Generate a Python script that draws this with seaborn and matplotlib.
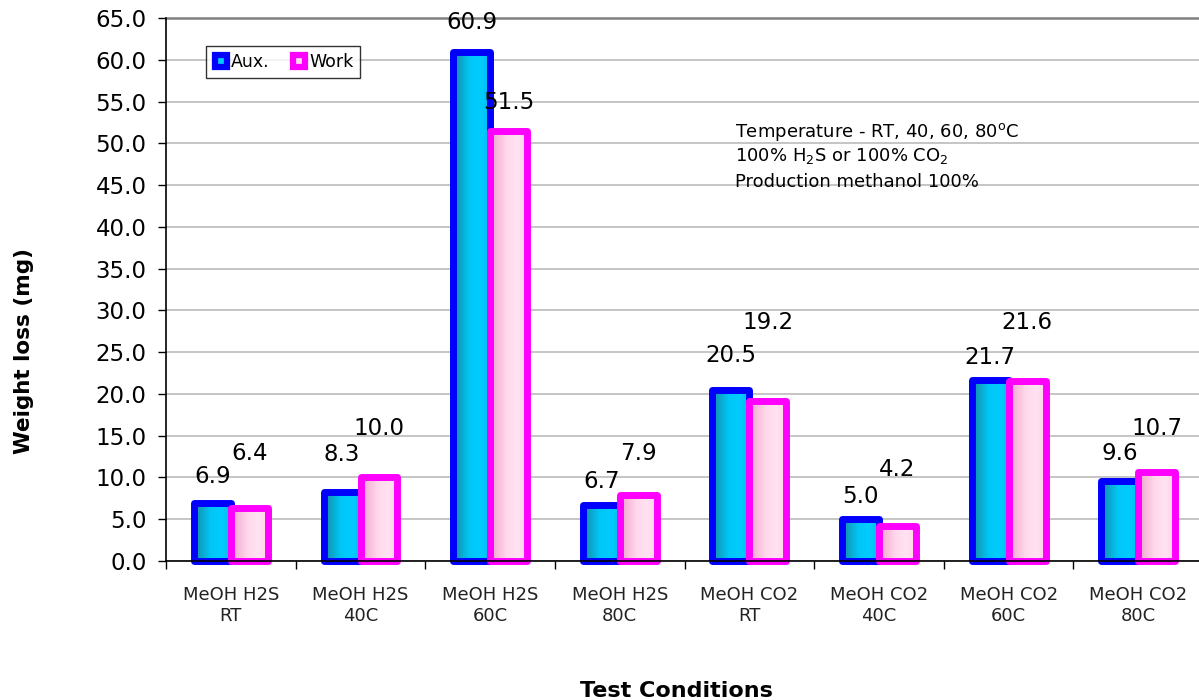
import numpy as np
import pandas as pd
import matplotlib
matplotlib.use("Agg")
import matplotlib.pyplot as plt
import seaborn as sns
from matplotlib.colors import LinearSegmentedColormap
from matplotlib.lines import Line2D
from matplotlib.patches import Rectangle
from matplotlib.ticker import FormatStrFormatter, FixedLocator

# ---- data -------------------------------------------------------------
conditions = ["MeOH H2S\nRT", "MeOH H2S\n40C", "MeOH H2S\n60C", "MeOH H2S\n80C",
              "MeOH CO2\nRT", "MeOH CO2\n40C", "MeOH CO2\n60C", "MeOH CO2\n80C"]
series = ["Aux.", "Work"]
aux_loss = [6.9, 8.3, 60.9, 6.7, 20.5, 5.0, 21.7, 9.6]
work_loss = [6.4, 10.0, 51.5, 7.9, 19.2, 4.2, 21.6, 10.7]
y_ticks = np.arange(0, 65.1, 5.0)

# vertical lift of each value label above its bar (pixels)
aux_label_lift = [27, 37, 30, 24, 34, 23, 22, 27]
work_label_lift = [54, 49, 28, 41, 78, 56, 58, 43]

df = pd.DataFrame({
    "condition": conditions * 2,
    "series": [series[0]] * len(conditions) + [series[1]] * len(conditions),
    "loss": aux_loss + work_loss,
})

edge_colors = {"Aux.": "#0000FF", "Work": "#FF00FF"}
base_fill = {"Aux.": "#00CCFF", "Work": "#FFDDEE"}
fill_maps = {
    "Aux.": LinearSegmentedColormap.from_list(
        "aux", [(0.0, "#168AA3"), (0.45, "#00C6F6"), (0.75, "#00CCFF"), (1.0, "#00BDEE")]),
    "Work": LinearSegmentedColormap.from_list(
        "work", [(0.0, "#EFA2CB"), (0.45, "#FFD8EC"), (0.75, "#FFE2F1"), (1.0, "#FFCFE6")]),
}

plt.rcParams["font.family"] = ["DejaVu Sans"]
plt.rcParams["mathtext.fontset"] = "dejavusans"

fig = plt.figure(figsize=(11.99, 7.0), dpi=100)
ax = fig.add_axes([0.1385, 0.1986, 0.8649, 0.7757])

sns.barplot(data=df, x="condition", y="loss", hue="series", hue_order=series,
            palette=[base_fill[s] for s in series], width=0.57, dodge=True,
            errorbar=None, legend=False, ax=ax)

# gradient fills with thick rounded outlines
grad = np.tile(np.linspace(0, 1, 256), (2, 1))
for k, (name, container) in enumerate(zip(series, ax.containers)):
    z = 2 + k
    for bar in container:
        x0, w, h = bar.get_x(), bar.get_width(), bar.get_height()
        bar.set_edgecolor("none")
        bar.set_zorder(z)
        im = ax.imshow(grad, cmap=fill_maps[name], extent=[x0, x0 + w, 0, h],
                       aspect="auto", origin="lower", zorder=z + 0.05,
                       interpolation="nearest")
        im.set_clip_path(bar)
        outline = Rectangle((x0, 0), w, h, facecolor="none",
                            edgecolor=edge_colors[name], linewidth=5.0,
                            joinstyle="round", zorder=z + 0.1, clip_on=False)
        ax.add_patch(outline)

ax.set_xlim(-0.5, len(conditions) - 0.5)
ax.set_ylim(0, 65)

# value labels
for name, container, lifts in zip(series, ax.containers, [aux_label_lift, work_label_lift]):
    for bar, lift in zip(container, lifts):
        v = bar.get_height()
        ax.annotate(f"{v:.1f}", xy=(bar.get_x() + bar.get_width() / 2, v),
                    xytext=(0, lift * 0.72), textcoords="offset points",
                    ha="center", va="center", fontsize=16.5, color="black", zorder=6)

# axes styling
ax.set_yticks(y_ticks)
ax.yaxis.set_major_formatter(FormatStrFormatter("%.1f"))
ax.tick_params(axis="y", direction="out", length=6, width=1, pad=8, labelsize=16.5,
               colors="black")
ax.tick_params(axis="x", which="major", length=0, pad=18, labelsize=13)
for lab in ax.get_xticklabels():
    lab.set_linespacing(1.25)
    lab.set_color("#222222")
ax.xaxis.set_minor_locator(FixedLocator(np.arange(-0.5, len(conditions), 1.0)))
ax.tick_params(axis="x", which="minor", direction="out", length=6, width=1, color="black")

ax.yaxis.grid(True, color="#C0C0C0", linewidth=1.3)
ax.set_axisbelow(True)
for side in ["left", "bottom"]:
    ax.spines[side].set_color("black")
    ax.spines[side].set_linewidth(1.2)
    ax.spines[side].set_zorder(8)
ax.spines["top"].set_color("#808080")
ax.spines["top"].set_linewidth(1.8)
ax.spines["right"].set_visible(False)

ax.set_ylabel("Weight loss (mg)", fontsize=15.5, fontweight="bold", va="center")
ax.yaxis.set_label_coords(-0.137, 0.386)
ax.set_xlabel("Test Conditions", fontsize=16, fontweight="bold", va="baseline")
ax.xaxis.set_label_coords(0.4923, -0.2505)

# legend
handles = [Line2D([], [], linestyle="none", marker="s", markersize=8,
                  markerfacecolor=fill_maps[s](0.6), markeredgecolor=edge_colors[s],
                  markeredgewidth=4.5) for s in series]
leg = ax.legend(handles, series, loc="upper left", bbox_to_anchor=(0.0386, 0.948),
                borderaxespad=0, ncol=2, frameon=True, fancybox=False, fontsize=12.5,
                handlelength=0.9, handletextpad=0.1, columnspacing=1.3,
                borderpad=0.4)
leg.get_frame().set_edgecolor("black")
leg.get_frame().set_linewidth(1.0)
leg.set_zorder(9)

# test-condition notes
notes = ["Temperature - RT, 40, 60, 80$^{\\mathrm{o}}$C",
         "100% H$_2$S or 100% CO$_2$",
         "Production methanol 100%"]
for text, yy in zip(notes, [0.781, 0.736, 0.689]):
    ax.text(0.5487, yy, text, transform=ax.transAxes, fontsize=13, ha="left",
            va="baseline", color="black", zorder=7)

fig.savefig("out.png", dpi=100, facecolor="white")
